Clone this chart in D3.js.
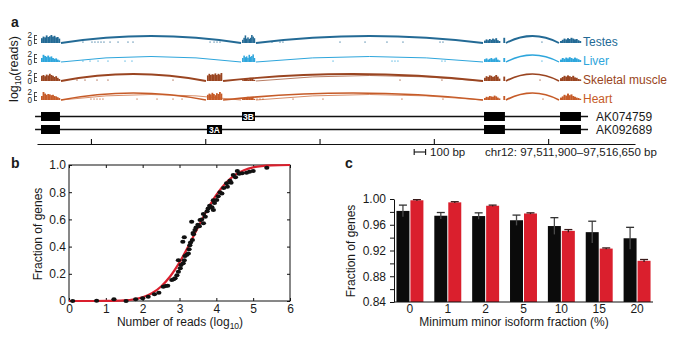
<!DOCTYPE html>
<html><head><meta charset="utf-8">
<script src="https://cdn.jsdelivr.net/npm/d3@7"></script>
<style>
body{margin:0;background:#fff;}
svg{display:block;font-family:"Liberation Sans",Arial,Helvetica,sans-serif;}
</style></head><body>
<svg id="chart" width="684" height="343"></svg>
<script>
// ================= DATA =================
// ---- panel a ----
const tissues = ["Testes", "Liver", "Skeletal muscle", "Heart"];
const exonIds = ["1", "3A", "3B", "4", "5"];
const exonStart = [35, 1487, 1794, 3911, 4576];   // bp from region start
const exonEnd   = [201, 1619, 1907, 4094, 4759];
const geneSpan = [-17, 4821];
const isoforms = ["AK074759", "AK092689"];
const isoformExons = [["1", "3B", "4", "5"], ["1", "3A", "4", "5"]];
const labelledExons = ["3A", "3B"];
const regionTicksBp = [472, 1472, 2472, 3472, 4472];
const regionLengthBp = 5232;
const scaleBarBp = [3300, 3400];
const scaleBarLabel = "100 bp";
const regionLabel = "chr12: 97,511,900–97,516,650 bp";
const trackTicks = [0, 1, 2];

// coverage histograms (log10 reads), bins per exon in order 1,3A,3B,4,5
const covTestes = [
  [1.2, 1.6, 1.4, 1.9, 1.5, 1.7, 2.0, 1.6, 1.8, 1.4, 1.5, 1.1],
  [],
  [0.8, 1.3, 1.9, 1.1, 1.4, 1.0, 1.3, 2.0, 1.6, 1.2],
  [0.6, 0.9, 0.7, 1.0, 0.8, 1.1, 0.9, 1.2, 0.7, 0.5, 0, 0, 1.3],
  [0.5, 0.8, 1.1, 0.9, 1.2, 1.0, 1.3, 1.1, 0.9, 1.0, 0.7, 0.5]
];
const covLiver = [
  [1.0, 1.8, 1.5, 1.3, 1.6, 1.2, 1.4, 1.0, 0.8, 0.9, 0.6, 0.4],
  [],
  [1.0, 1.6, 1.2, 1.4, 1.0, 1.8, 1.3, 1.5, 1.9, 1.0],
  [0.7, 0.9, 0.6, 0.8, 1.0, 0.7, 0.9, 1.1, 0.6, 0.4, 0, 0, 1.0],
  [0.6, 1.0, 0.8, 1.1, 0.9, 1.2, 1.0, 0.8, 1.1, 0.9, 0.7, 0.5]
];
const covMuscle = [
  [1.3, 1.5, 1.2, 1.6, 1.4, 1.8, 1.5, 1.3, 1.0, 1.2, 0.8, 0.5],
  [1.4, 1.8, 1.5, 1.7, 1.6, 1.9, 1.5, 1.8, 1.6, 2.0],
  [0.2, 0.5, 0.7, 0.4, 0.8, 0.6, 0.3],
  [0.8, 1.2, 1.0, 1.4, 1.3, 1.0, 1.2, 1.5, 1.1, 0.6, 0, 0, 1.1],
  [0.7, 1.0, 1.3, 1.1, 1.4, 1.2, 1.0, 1.3, 0.9, 0.8, 0.5, 0.4]
];
const covHeart = [
  [1.0, 2.0, 1.6, 1.3, 1.5, 1.4, 1.2, 1.3, 1.0, 0.9, 0.7, 0.5],
  [1.3, 1.6, 1.4, 1.8, 1.5, 1.2, 1.7, 1.5, 2.0, 1.6],
  [0.4, 0.6, 0.5, 0.8, 0.7, 0.6, 0.5, 0.3],
  [0.5, 0.8, 0.7, 1.0, 0.9, 0.8, 1.1, 0.9, 0.6, 0.4, 0, 0, 1.0],
  [0.6, 0.9, 1.3, 1.1, 1.6, 1.2, 1.4, 1.0, 0.8, 0.6, 0.5, 0.3]
];
// intronic single reads (bp)
const readsTestes = [402, 481, 507, 534, 560, 586, 639, 709, 796, 840, 1514, 1549, 1575, 1601, 2056, 2126, 2152, 2651, 2870, 3062, 3202, 3526, 3552, 4418];
const readsLiver  = [402, 464, 534, 621, 770, 831, 2590, 3106, 3132, 3158, 3543, 3570, 4418];
const readsMuscle = [350, 420, 525, 621, 1190, 3176, 3543, 4401];
const readsHeart  = [472, 499, 525, 551, 577, 875, 1050, 1190, 1269, 1925, 1951, 1977, 2240, 2502, 3193, 3552, 4427];
// splice junctions [from exon, to exon, junction reads]
const juncTestes = [["1", "3B", 30], ["3B", "4", 30], ["4", "5", 30]];
const juncLiver  = [["1", "3B", 12], ["3B", "4", 12], ["4", "5", 20]];
const juncMuscle = [["1", "3A", 28], ["3A", "4", 28], ["3B", "4", 6], ["4", "5", 26]];
const juncHeart  = [["1", "3A", 26], ["1", "3B", 6], ["3A", "4", 26], ["3B", "4", 6], ["4", "5", 26]];

// ---- panel b ----
const bXTicks = [0, 1, 2, 3, 4, 5, 6];
const bYTicks = [0, 0.2, 0.4, 0.6, 0.8, 1.0];
const bCurveX = [0, 0.5, 1, 1.5, 2, 2.25, 2.5, 2.75, 3, 3.25, 3.5, 3.75, 4, 4.25, 4.5, 4.75, 5, 5.5, 6];
const bCurveY = [0, 0, 0.001, 0.005, 0.028, 0.057, 0.107, 0.182, 0.284, 0.407, 0.54, 0.669, 0.78, 0.866, 0.926, 0.962, 0.983, 0.997, 1.0];
const bPointsX = [0.1, 0.75, 1.22, 1.55, 1.81, 2.0, 2.15, 2.32, 2.44, 2.56, 2.62, 2.68, 2.79, 2.84, 2.88, 2.93, 2.97, 2.97, 3.02, 3.04, 3.1, 3.13, 3.15, 3.2, 3.24, 3.26, 3.28, 3.09, 3.13, 3.3, 3.35, 3.37, 3.38, 3.42, 3.45, 3.33, 3.5, 3.54, 3.56, 3.6, 3.65, 3.65, 3.7, 3.75, 3.78, 3.82, 3.88, 3.92, 3.92, 3.95, 4.01, 4.05, 4.1, 4.15, 4.2, 4.28, 4.3, 4.37, 4.4, 4.46, 4.52, 4.57, 4.62, 4.7, 4.82, 4.9, 5.0, 5.37];
const bPointsY = [0, 0.002, 0.012, 0, 0.012, 0.02, 0.032, 0.049, 0.061, 0.105, 0.11, 0.113, 0.154, 0.16, 0.167, 0.19, 0.215, 0.3, 0.24, 0.265, 0.277, 0.3, 0.331, 0.34, 0.35, 0.38, 0.41, 0.436, 0.468, 0.43, 0.449, 0.5, 0.49, 0.522, 0.54, 0.583, 0.56, 0.55, 0.596, 0.6, 0.571, 0.64, 0.62, 0.66, 0.68, 0.7, 0.69, 0.67, 0.74, 0.72, 0.743, 0.77, 0.8, 0.79, 0.83, 0.865, 0.84, 0.885, 0.87, 0.926, 0.91, 0.956, 0.935, 0.94, 0.943, 0.95, 0.956, 0.98];

// ---- panel c ----
const cCategories = ["0", "1", "2", "5", "10", "15", "20"];
const cSeries = ["black", "red"];
const cBlack    = [0.9815, 0.974, 0.9735, 0.967, 0.958, 0.9485, 0.939];
const cBlackErr = [0.009, 0.005, 0.005, 0.008, 0.013, 0.017, 0.017];
const cRed      = [0.998, 0.9948, 0.9895, 0.9775, 0.9505, 0.923, 0.904];
const cRedErr   = [0.001, 0.001, 0.001, 0.001, 0.002, 0.001, 0.002];
const cYTicks = [0.84, 0.86, 0.88, 0.90, 0.92, 0.94, 0.96, 0.98, 1.00];

// ================= STYLE =================
const tissueColors = ["#236a95", "#2ea6dc", "#9a4521", "#c65b28"];
const redColor = "#da1f2d";
const textColor = "#1a1a1a";

// ================= DRAW =================
const svg = d3.select("#chart");

// ---------- panel a ----------
svg.append("text").attr("x", 11).attr("y", 27).attr("font-size", 14).attr("font-weight", "bold").attr("fill", textColor).text("a");

const ax = d3.scaleLinear().domain([0, regionLengthBp]).range([37, 635]);
const trackY = d3.scalePoint().domain(tissues).range([43, 100]);
const jw = d3.scaleLinear().domain([0, 30]).range([0.4, 1.9]);
const ei = id => exonIds.indexOf(id);
const covs = [covTestes, covLiver, covMuscle, covHeart];
const reads = [readsTestes, readsLiver, readsMuscle, readsHeart];
const juncs = [juncTestes, juncLiver, juncMuscle, juncHeart];

const yl = svg.append("text").attr("transform", "translate(18,69) rotate(-90)")
  .attr("text-anchor", "middle").attr("font-size", 12.5).attr("fill", textColor);
yl.append("tspan").text("log");
yl.append("tspan").attr("font-size", 8.5).attr("dy", 3).text("10");
yl.append("tspan").attr("dy", -3).text("(reads)");

tissues.forEach((t, i) => {
  const base = trackY(t);
  const col = tissueColors[i];
  const ty = d3.scaleLinear().domain([0, 2]).range([base, base - 8]);
  const g = svg.append("g");
  g.append("g").attr("transform", "translate(34,0)")
    .call(d3.axisRight(ty).tickValues(trackTicks).tickSize(3).tickSizeOuter(0).tickFormat(""))
    .call(s => s.selectAll("line,path").attr("stroke", "#222").attr("stroke-width", 0.8));
  [0, 2].forEach(v => g.append("text").attr("x", 32).attr("y", ty(v) + 3.2)
    .attr("text-anchor", "end").attr("font-size", 8.2).attr("fill", "#222").text(v));
  // histograms
  covs[i].forEach((bins, k) => {
    if (!bins.length) return;
    const s = exonStart[k], w = (exonEnd[k] - exonStart[k]) / bins.length;
    g.selectAll(null).data(bins).join("rect")
      .attr("x", (d, j) => ax(s + j * w)).attr("width", ax(w) - ax(0) + 0.25)
      .attr("y", d => ty(d)).attr("height", d => base - ty(d)).attr("fill", col);
  });
  // intronic reads
  g.selectAll(null).data(reads[i]).join("rect")
    .attr("x", d => ax(d) - 0.5).attr("y", base - 1.6).attr("width", 1).attr("height", 1.4)
    .attr("fill", col).attr("opacity", 0.85);
  // junction arcs
  g.selectAll(null).data(juncs[i]).join("path")
    .attr("d", ([a, b, n]) => {
      const x1 = ax(exonEnd[ei(a)]) + 1, x2 = ax(exonStart[ei(b)]) - 1;
      const h = n >= 15 ? 7 : 5.5;
      return `M${x1},${base}Q${(x1 + x2) / 2},${base - 2 * h} ${x2},${base}`;
    })
    .attr("fill", "none").attr("stroke", col).attr("stroke-width", d => jw(d[2]));
  g.append("text").attr("x", 583).attr("y", base + 2.5).attr("font-size", 12)
    .attr("fill", col).text(t);
});

// gene models
const isoY = d3.scalePoint().domain(isoforms).range([116.5, 129.5]);
isoforms.forEach((iso, i) => {
  const cy = isoY(iso);
  const g = svg.append("g");
  g.append("line").attr("x1", ax(geneSpan[0])).attr("x2", ax(geneSpan[1]))
    .attr("y1", cy).attr("y2", cy).attr("stroke", "#111").attr("stroke-width", 1.4);
  isoformExons[i].forEach(id => {
    const k = ei(id);
    g.append("rect").attr("x", ax(exonStart[k])).attr("width", ax(exonEnd[k]) - ax(exonStart[k]))
      .attr("y", cy - 4.5).attr("height", 9).attr("fill", "#000");
    if (labelledExons.includes(id)) {
      g.append("text").attr("x", (ax(exonStart[k]) + ax(exonEnd[k])) / 2).attr("y", cy + 3)
        .attr("text-anchor", "middle").attr("font-size", 8.5).attr("font-weight", "bold")
        .attr("fill", "#fff").text(id);
    }
  });
  g.append("text").attr("x", ax(geneSpan[1]) + 8).attr("y", cy + 4.2).attr("font-size", 12)
    .attr("fill", textColor).text(iso);
});

// region axis
svg.append("g").attr("transform", "translate(0,144)")
  .call(d3.axisTop(ax).tickValues(regionTicksBp).tickSize(5).tickSizeOuter(0).tickFormat(""))
  .call(s => s.selectAll("line,path").attr("stroke", "#111").attr("stroke-width", 1.1));
const sb = svg.append("g").attr("stroke", "#111").attr("stroke-width", 1.1);
sb.append("line").attr("x1", ax(scaleBarBp[0])).attr("x2", ax(scaleBarBp[1])).attr("y1", 152).attr("y2", 152);
scaleBarBp.forEach(v => sb.append("line").attr("x1", ax(v)).attr("x2", ax(v)).attr("y1", 149).attr("y2", 155));
svg.append("text").attr("x", ax(scaleBarBp[1]) + 4.5).attr("y", 156).attr("font-size", 11.5)
  .attr("fill", textColor).text(scaleBarLabel);
svg.append("text").attr("x", 485).attr("y", 156).attr("font-size", 11.5)
  .attr("fill", textColor).text(regionLabel);

// ---------- panel b ----------
svg.append("text").attr("x", 11).attr("y", 168).attr("font-size", 14).attr("font-weight", "bold").attr("fill", textColor).text("b");
const bx = d3.scaleLinear().domain([0, 6]).range([69, 290]);
const by = d3.scaleLinear().domain([0, 1]).range([301, 165]);
const gb = svg.append("g");
const styleAxis = s => {
  s.select(".domain").remove();
  s.selectAll("line").attr("stroke", "#111");
  s.selectAll("text").attr("font-size", 12).attr("fill", textColor).attr("font-family", "Liberation Sans, Arial, sans-serif");
};
gb.append("g").attr("transform", `translate(0,${by(0)})`)
  .call(d3.axisBottom(bx).tickValues(bXTicks).tickSizeInner(-3).tickSizeOuter(0).tickPadding(3).tickFormat(d3.format("d")))
  .call(styleAxis);
gb.append("g").attr("transform", `translate(${bx(0)},0)`)
  .call(d3.axisLeft(by).tickValues(bYTicks).tickSizeInner(-3).tickSizeOuter(0).tickPadding(3)
    .tickFormat(d => d === 0 ? "0" : d3.format(".1f")(d)))
  .call(styleAxis);
gb.append("g").attr("transform", `translate(0,${by(1)})`)
  .call(d3.axisTop(bx).tickValues(bXTicks).tickSizeInner(-3).tickSizeOuter(0).tickFormat(""))
  .call(styleAxis);
gb.append("g").attr("transform", `translate(${bx(6)},0)`)
  .call(d3.axisRight(by).tickValues(bYTicks).tickSizeInner(-3).tickSizeOuter(0).tickFormat(""))
  .call(styleAxis);
gb.append("rect").attr("x", bx(0)).attr("y", by(1)).attr("width", bx(6) - bx(0)).attr("height", by(0) - by(1))
  .attr("fill", "none").attr("stroke", "#111").attr("stroke-width", 1);
gb.append("path").datum(bCurveX.map((x, i) => [x, bCurveY[i]]))
  .attr("d", d3.line().x(d => bx(d[0])).y(d => by(d[1])).curve(d3.curveMonotoneX))
  .attr("fill", "none").attr("stroke", redColor).attr("stroke-width", 2.2);
gb.selectAll(null).data(bPointsX.map((x, i) => [x, bPointsY[i]])).join("ellipse")
  .attr("cx", d => bx(d[0])).attr("cy", d => by(d[1])).attr("rx", 2.6).attr("ry", 2).attr("fill", "#111");
const bxt = gb.append("text").attr("x", 180).attr("y", 326).attr("text-anchor", "middle")
  .attr("font-size", 12).attr("fill", textColor);
bxt.append("tspan").text("Number of reads (log");
bxt.append("tspan").attr("font-size", 8.5).attr("dy", 3).text("10");
bxt.append("tspan").attr("dy", -3).text(")");
gb.append("text").attr("transform", "translate(42,234) rotate(-90)").attr("text-anchor", "middle")
  .attr("font-size", 12).attr("fill", textColor).text("Fraction of genes");

// ---------- panel c ----------
svg.append("text").attr("x", 345).attr("y", 168).attr("font-size", 14).attr("font-weight", "bold").attr("fill", textColor).text("c");
const cx0 = d3.scaleBand().domain(cCategories).range([391, 656]);
const cx1 = d3.scaleBand().domain(cSeries).range([0, cx0.bandwidth()]).paddingInner(0.071).paddingOuter(0.39);
const cy = d3.scaleLinear().domain([0.84, 1.0]).range([302, 199]);
const gc = svg.append("g");
const cData = cCategories.map((c, i) => ({ c, vals: [
  { s: "black", v: cBlack[i], e: cBlackErr[i] },
  { s: "red", v: cRed[i], e: cRedErr[i] }] }));
const grp = gc.selectAll(null).data(cData).join("g").attr("transform", d => `translate(${cx0(d.c)},0)`);
grp.selectAll("rect").data(d => d.vals).join("rect")
  .attr("x", d => cx1(d.s)).attr("width", cx1.bandwidth())
  .attr("y", d => cy(d.v)).attr("height", d => cy(0.84) - cy(d.v))
  .attr("fill", d => d.s === "black" ? "#0b0b0b" : redColor);
const eb = grp.selectAll("g.err").data(d => d.vals).join("g").attr("class", "err");
eb.append("line").attr("x1", d => cx1(d.s) + cx1.bandwidth() / 2).attr("x2", d => cx1(d.s) + cx1.bandwidth() / 2)
  .attr("y1", d => cy(d.v - d.e)).attr("y2", d => cy(d.v + d.e))
  .attr("stroke", d => d.s === "black" ? "#4a4a4a" : "#3a1a1a").attr("stroke-width", 1.3);
eb.append("line").attr("x1", d => cx1(d.s) + cx1.bandwidth() / 2 - 4).attr("x2", d => cx1(d.s) + cx1.bandwidth() / 2 + 4)
  .attr("y1", d => cy(d.v + d.e)).attr("y2", d => cy(d.v + d.e))
  .attr("stroke", d => d.s === "black" ? "#333" : "#3a1a1a").attr("stroke-width", 1.3);
gc.append("g").attr("transform", "translate(394,0)")
  .call(d3.axisLeft(cy).tickValues(cYTicks).tickSizeInner(4).tickSizeOuter(0).tickPadding(4)
    .tickFormat((d, i) => i % 2 === 0 ? d3.format(".2f")(d) : ""))
  .call(s => {
    s.select(".domain").attr("stroke", "#111");
    s.selectAll("line").attr("stroke", "#111");
    s.selectAll("text").attr("font-size", 12).attr("fill", textColor).attr("font-family", "Liberation Sans, Arial, sans-serif");
  });
gc.append("g").attr("transform", "translate(0,302)")
  .call(d3.axisBottom(cx0).tickSize(0).tickPadding(2))
  .call(s => {
    s.select(".domain").remove();
    s.selectAll("text").attr("font-size", 12).attr("fill", textColor).attr("font-family", "Liberation Sans, Arial, sans-serif");
  });
gc.append("line").attr("x1", 394).attr("x2", 653).attr("y1", 302).attr("y2", 302).attr("stroke", "#111");
gc.append("text").attr("x", 514).attr("y", 326).attr("text-anchor", "middle").attr("font-size", 12)
  .attr("fill", textColor).text("Minimum minor isoform fraction (%)");
gc.append("text").attr("transform", "translate(355,251) rotate(-90)").attr("text-anchor", "middle")
  .attr("font-size", 12).attr("fill", textColor).text("Fraction of genes");
</script>
</body></html>
